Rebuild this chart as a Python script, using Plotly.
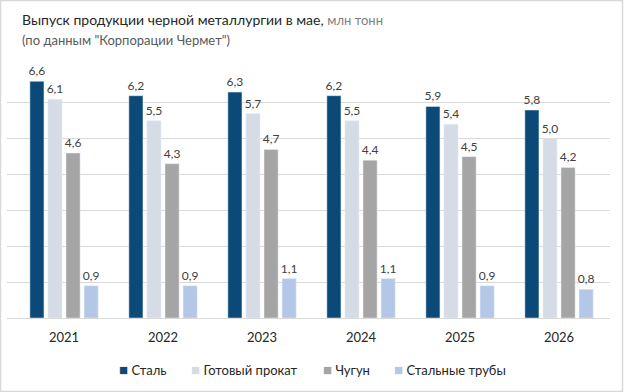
import plotly.graph_objects as go

years = ["2021", "2022", "2023", "2024", "2025", "2026"]
series_names = ["Сталь", "Готовый прокат", "Чугун", "Стальные трубы"]
steel = [6.6, 6.2, 6.3, 6.2, 5.9, 5.8]
rolled = [6.1, 5.5, 5.7, 5.5, 5.4, 5.0]
iron = [4.6, 4.3, 4.7, 4.4, 4.5, 4.2]
pipes = [0.9, 0.9, 1.1, 1.1, 0.9, 0.8]
colors = ["#0B4A78", "#D6DCE5", "#A5A5A5", "#B4C7E7"]

W, H = 624, 392
L, R, T, B = 7, 14, 67, 74
pw, ph = W - L - R, H - T - B

fig = go.Figure()
for name, vals, col in zip(series_names, [steel, rolled, iron, pipes], colors):
    fig.add_trace(go.Bar(
        x=years, y=vals, name=name, marker_color=col,
        text=[f"{v:.1f}".replace(".", ",") for v in vals],
        textposition="outside", cliponaxis=False, constraintext="none",
        textfont=dict(size=12, color="#404040", family="Lato"),
        showlegend=False,
    ))

fig.update_layout(
    width=W, height=H,
    margin=dict(l=L, r=R, t=T, b=B),
    paper_bgcolor="white", plot_bgcolor="white",
    barmode="group", bargap=0.27, bargroupgap=0.22,
    font=dict(family="Lato", size=13, color="#262626"),
    xaxis=dict(range=[-0.576, 5.515], showgrid=False, showline=False,
               ticks="", ticklabelstandoff=10,
               tickfont=dict(size=13, color="#262626")),
    yaxis=dict(range=[0, 7], dtick=1, showticklabels=False, showgrid=True,
               gridcolor="#D9D9D9", gridwidth=1, zeroline=True,
               zerolinecolor="#D9D9D9", zerolinewidth=1),
    showlegend=False,
)

def px(x):
    return (x - L) / pw

def py(y):
    return (H - B - y) / ph

fig.add_annotation(xref="paper", yref="paper", x=px(20), y=py(20),
                   xanchor="left", yanchor="middle",
                   text="Выпуск продукции черной металлургии в мае, "
                        "<span style='color:#7F7F7F;font-size:13px'>млн тонн</span>",
                   showarrow=False, font=dict(size=14, color="#262626", family="Lato"))
fig.add_annotation(xref="paper", yref="paper", x=px(20), y=py(40),
                   xanchor="left", yanchor="middle",
                   text="(по данным \"Корпорации Чермет\")",
                   showarrow=False, font=dict(size=13, color="#595959", family="Lato"))

# legend drawn as text items
legend_x = [117, 189, 321, 392]
for name, col, lx in zip(series_names, colors, legend_x):
    fig.add_annotation(xref="paper", yref="paper", x=px(lx), y=py(369),
                       xanchor="left", yanchor="middle", showarrow=False,
                       text=f"<span style='color:{col};font-size:15px'>■</span> {name}",
                       font=dict(size=13, color="#262626", family="Lato"))

fig.add_shape(type="rect", xref="paper", yref="paper",
              x0=px(0.5), x1=px(W - 1.5), y0=py(H - 0.5), y1=py(0.5),
              line=dict(color="#D9D9D9", width=1.5), layer="below")

fig.write_html("out.html")
